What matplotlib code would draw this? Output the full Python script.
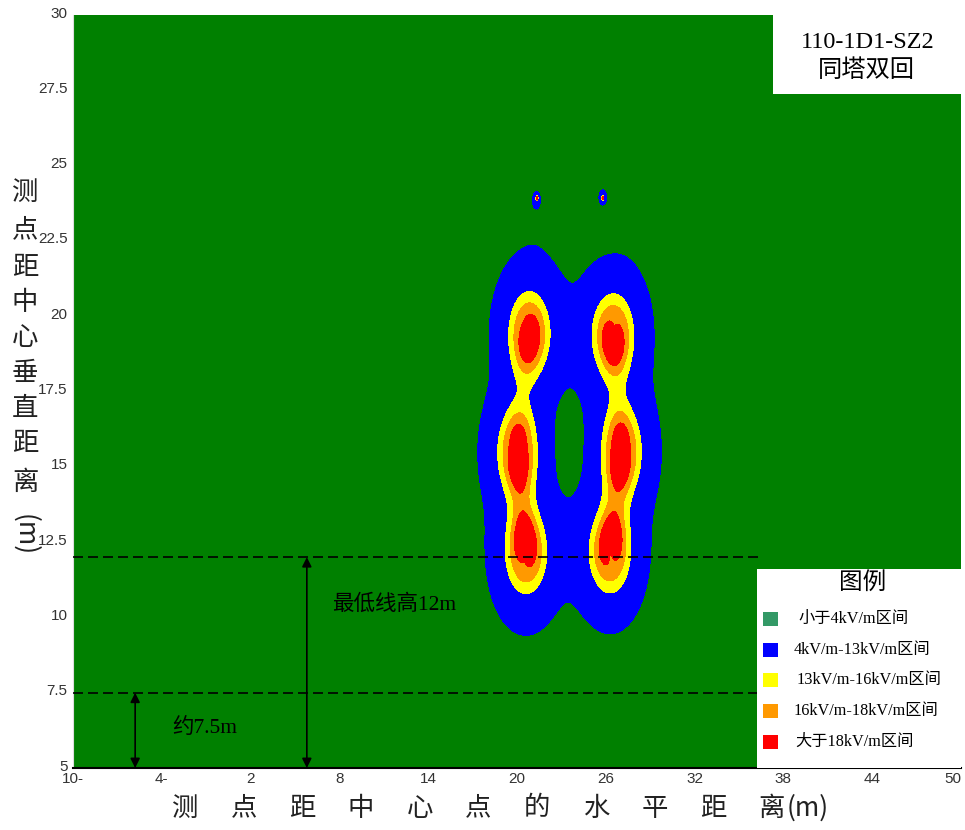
import numpy as np
import matplotlib
matplotlib.use("Agg")
import matplotlib.pyplot as plt
from matplotlib.patches import Rectangle
from matplotlib.transforms import ScaledTranslation

# ---- conductor data (double-circuit tower, reverse phase sequence) ----
cond_x = [20.78, 20.03, 20.57, 26.52, 27.06, 26.32]
cond_y = [19.43, 15.51, 12.12, 19.43, 15.51, 12.12]
cond_phase_deg = [0, -120, 120, 120, -120, 0]
# near-field profile of each bundle: peak / (1 + (r / radius) ** order)
cond_peak = 19.0
cond_radius = 1.8
cond_order = 3.0

# shield (ground) wires, thin line charges
gw_x = [21.35, 25.8]
gw_y = [23.92, 23.92]
gw_charge = [1.0, 1.0]
gw_phase_deg = [180, 180]

# field-strength bands (kV/m)
levels = [0, 4, 13, 16, 18, 1e6]
band_colors = ["#008000", "#0000FF", "#FFFF00", "#FF9900", "#FF0000"]
legend_colors = ["#339966", "#0000FF", "#FFFF00", "#FF9900", "#FF0000"]
legend_labels = ["小于4kV/m区间", "4kV/m-13kV/m区间", "13kV/m-16kV/m区间",
                 "16kV/m-18kV/m区间", "大于18kV/m区间"]

x_ticks = [-10, -4, 2, 8, 14, 20, 26, 32, 38, 44, 50]
x_ticklabels = ["10-", "4-", "2", "8", "14", "20", "26", "32", "38", "44", "50"]
y_ticks = [5, 7.5, 10, 12.5, 15, 17.5, 20, 22.5, 25, 27.5, 30]
y_ticklabels = ["5", "7.5", "10", "12.5", "15", "17.5", "20", "22.5", "25", "27.5", "30"]

lowest_height = 12.0
clearance_height = 7.5

plt.rcParams["font.family"] = ["Liberation Serif", "Noto Sans CJK SC"]
plt.rcParams["lines.scale_dashes"] = False
CJK = ["Noto Sans CJK SC", "DejaVu Sans"]

W, H = 965, 830
fig = plt.figure(figsize=(W / 100, H / 100), dpi=100)
L, R, T, B = 73, 961, 15, 768
ax = fig.add_axes([L / W, 1 - B / H, (R - L) / W, (B - T) / H])
ax.set_facecolor(band_colors[0])


def axfrac(px, py):
    return (px - L) / (R - L), (B - py) / (B - T)


# ---- electric field magnitude from phasor sources ----
gx = np.linspace(-10, 50, 2401)
gy = np.linspace(5, 30, 1001)
X, Y = np.meshgrid(gx, gy)
Ex = np.zeros_like(X, dtype=complex)
Ey = np.zeros_like(X, dtype=complex)

for cx, cy, p in zip(cond_x, cond_y, cond_phase_deg):
    dx = X - cx
    dy = Y - cy
    r = np.sqrt(dx * dx + dy * dy) + 1e-9
    mag = cond_peak / (1 + (r / cond_radius) ** cond_order)
    q = np.exp(1j * np.deg2rad(p))
    Ex += q * mag * dx / r
    Ey += q * mag * dy / r

for cx, cy, qm, p in zip(gw_x, gw_y, gw_charge, gw_phase_deg):
    dx = X - cx
    dy = Y - cy
    r2 = dx * dx + dy * dy + 1e-9
    q = qm * np.exp(1j * np.deg2rad(p))
    Ex += q * dx / r2
    Ey += q * dy / r2

E = np.sqrt(np.abs(Ex) ** 2 + np.abs(Ey) ** 2)

ax.contourf(X, Y, E, levels=levels, colors=band_colors, antialiased=False)

ax.set_xlim(-10, 50)
ax.set_ylim(5, 30)
ax.set_xticks(x_ticks)
ax.set_xticklabels(x_ticklabels)
ax.set_yticks(y_ticks)
ax.set_yticklabels(y_ticklabels)
ax.tick_params(length=0, labelsize=11, labelcolor="#333333")
ax.tick_params(axis="x", pad=3)
ax.tick_params(axis="y", pad=4)
for lab in ax.get_xticklabels() + ax.get_yticklabels():
    lab.set_family("Liberation Sans")
ax.get_xticklabels()[-1].set_horizontalalignment("right")
up = ScaledTranslation(0, 3 / 100, fig.dpi_scale_trans)
for lab in ax.get_yticklabels():
    lab.set_transform(lab.get_transform() + up)
for s in ["top", "right"]:
    ax.spines[s].set_visible(False)
ax.spines["left"].set_color("#dddddd")
ax.spines["bottom"].set_color("black")
ax.spines["bottom"].set_linewidth(1.5)

# ---- reference height lines and dimension arrows ----
line_end = 36.3
for h in (lowest_height, clearance_height):
    ax.plot([-10, line_end], [h, h], color="black", lw=1.2,
            linestyle=(0, (7.2, 3.6)), zorder=3)
ax.annotate("", xy=(-5.8, 5.0), xytext=(-5.8, clearance_height),
            arrowprops=dict(arrowstyle="<|-|>", color="black", lw=1.2,
                            mutation_scale=14, shrinkA=0, shrinkB=0), zorder=4)
ax.annotate("", xy=(5.8, 5.0), xytext=(5.8, lowest_height),
            arrowprops=dict(arrowstyle="<|-|>", color="black", lw=1.2,
                            mutation_scale=14, shrinkA=0, shrinkB=0), zorder=4)
ax.text(-3.3, 6.33, "约7.5m", fontsize=15.5, va="center", ha="left", zorder=4)
ax.text(7.5, 10.41, "最低线高12m", fontsize=15.5, va="center", ha="left", zorder=4)

# ---- title box ----
x0, y0 = axfrac(773, 94)
x1, y1 = axfrac(R, T)
ax.add_patch(Rectangle((x0, y0), x1 - x0, y1 - y0, transform=ax.transAxes,
                       facecolor="white", edgecolor="none", zorder=5))
tx, ty = axfrac(868, 42)
ax.text(tx, ty, "110-1D1-SZ2", transform=ax.transAxes, fontsize=17.5,
        ha="center", va="center", zorder=6)
tx, ty = axfrac(866, 71)
ax.text(tx, ty, "同塔双回", transform=ax.transAxes, fontsize=17.5,
        ha="center", va="center", zorder=6)

# ---- legend box ----
x0, y0 = axfrac(757, B)
x1, y1 = axfrac(R, 569)
ax.add_patch(Rectangle((x0, y0), x1 - x0, y1 - y0, transform=ax.transAxes,
                       facecolor="white", edgecolor="none", zorder=5))
tx, ty = axfrac(863, 584)
ax.text(tx, ty, "图例", transform=ax.transAxes, fontsize=17,
        ha="center", va="center", zorder=6)
row_y = [619, 650, 680, 711, 742]
text_x = [798, 794, 797, 794, 795]
for py, tx_px, col, lab in zip(row_y, text_x, legend_colors, legend_labels):
    sx0, sy0 = axfrac(763, py + 7)
    sx1, sy1 = axfrac(778, py - 7)
    ax.add_patch(Rectangle((sx0, sy0), sx1 - sx0, sy1 - sy0, transform=ax.transAxes,
                           facecolor=col, edgecolor="none", zorder=6))
    lx, ly = axfrac(tx_px, py)
    ax.text(lx, ly, lab, transform=ax.transAxes, fontsize=11.7,
            ha="left", va="center", zorder=6)

# ---- axis titles (stacked characters) ----
ylab_chars = list("测点距中心垂直距离")
ylab_pos = [192, 230, 267, 302, 337, 373, 408, 443, 482]
for ch, py in zip(ylab_chars, ylab_pos):
    fig.text(25 / W, 1 - py / H, ch, fontsize=19, ha="center", va="center",
             family=CJK, weight="light", color="#222222")
fig.text(25 / W, 1 - 535 / H, "(m)", fontsize=19, ha="center", va="center",
         rotation=-90, family=CJK, weight="light", color="#222222")

xlab_chars = list("测点距中心点的水平距离")
for i, ch in enumerate(xlab_chars):
    px = 185 + i * (772 - 185) / 10
    fig.text(px / W, 1 - 808 / H, ch, fontsize=19, ha="center", va="center",
             family=CJK, weight="light", color="#222222")
fig.text(808 / W, 1 - 808 / H, "(m)", fontsize=19, ha="center", va="center",
         family=CJK, weight="light", color="#222222")

fig.savefig("out.png", dpi=100)
